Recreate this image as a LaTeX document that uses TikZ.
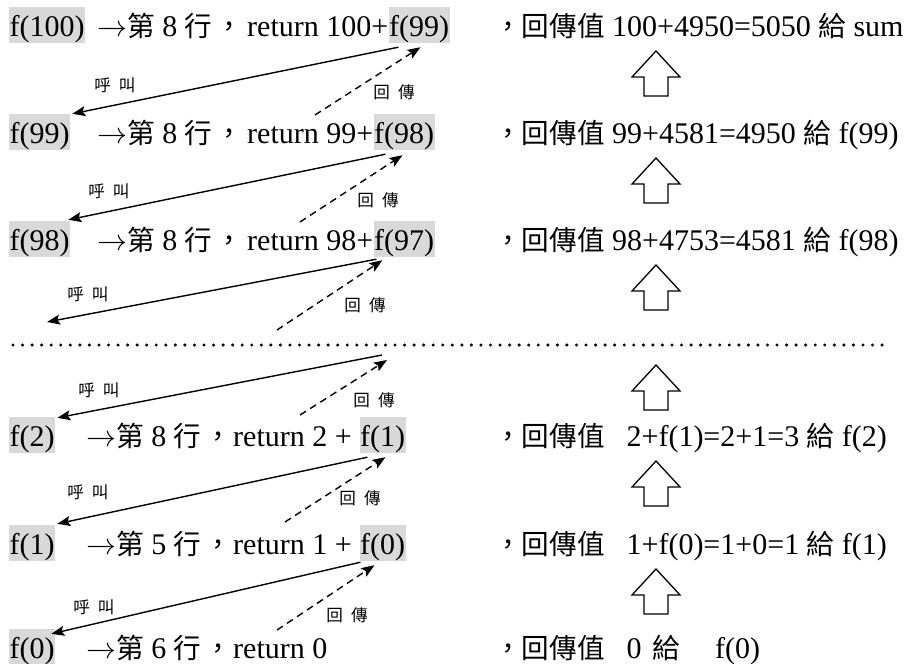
\RequirePackage{fix-cm}
\documentclass[tikz,border=0pt]{standalone}
\usepackage{fontspec}
\setmainfont{Liberation Serif}
\newfontfamily\cjk[Scale=0.92]{Noto Sans CJK TC}
\usetikzlibrary{arrows.meta}
\definecolor{boxgray}{RGB}{217,217,217}
\newcommand{\hang}[1]{$\rightarrow${\cjk 第} #1 {\cjk 行}\kern3pt{\cjk ，}}
\tikzset{
  txt/.style={font=\fontsize{30}{36}\selectfont, inner sep=0pt, anchor=base west},
  fbox/.style={txt, fill=boxgray, text height=29pt, text depth=7pt, inner xsep=0.5pt},
  lbl/.style={font=\cjk\fontsize{18}{20}\selectfont, inner sep=0pt},
  tip/.style={-{Stealth[length=13pt,width=10pt,inset=2.5pt]}},
  call/.style={line width=1.4pt, tip},
  ret/.style={line width=1.4pt, dash pattern=on 7pt off 5pt, tip},
  uparr/.pic={\draw[line width=1.3pt, line join=miter] (0,0) -- (24,26) -- (12,26) -- (12,45) -- (-12,45) -- (-12,26) -- (-24,26) -- cycle;}
}
\begin{document}
\begin{tikzpicture}[x=1pt,y=-1pt]
\useasboundingbox (0,0) rectangle (911,664);
% row 1
\node[fbox] (r1a) at (9,36) {f(100)};
\node[txt] (r1t) at (97,36) {\hang{8}};
\node[txt] (r1r) at (247,36) {return 100+};
\node[fbox] (r1b) at (r1r.base east) {f(99)};
\node[txt] (r1v) at (494,36) {{\cjk ，回傳值} 100+4950=5050 {\cjk 給} sum};
% row 2
\node[fbox] (r2a) at (9,143) {f(99)};
\node[txt] (r2t) at (97,143) {\hang{8}};
\node[txt] (r2r) at (247,143) {return 99+};
\node[fbox] (r2b) at (r2r.base east) {f(98)};
\node[txt] (r2v) at (494,143) {{\cjk ，回傳值} 99+4581=4950 {\cjk 給} f(99)};
% row 3
\node[fbox] (r3a) at (9,250) {f(98)};
\node[txt] (r3t) at (97,250) {\hang{8}};
\node[txt] (r3r) at (247,250) {return 98+};
\node[fbox] (r3b) at (r3r.base east) {f(97)};
\node[txt] (r3v) at (494,250) {{\cjk ，回傳值} 98+4753=4581 {\cjk 給} f(98)};
% row 4
\node[fbox] (r4a) at (9,446) {f(2)};
\node[txt] (r4t) at (86,446) {\hang{8}};
\node[txt] (r4r) at (233,446) {return 2 +};
\node[fbox] (r4b) at ([xshift=7.5]r4r.base east) {f(1)};
\node[txt] (r4v) at (494,446) {{\cjk ，回傳值}\hspace{22pt}2+f(1)=2+1=3 {\cjk 給} f(2)};
% row 5
\node[fbox] (r5a) at (9,554) {f(1)};
\node[txt] (r5t) at (86,554) {\hang{5}};
\node[txt] (r5r) at (233,554) {return 1 +};
\node[fbox] (r5b) at ([xshift=7.5]r5r.base east) {f(0)};
\node[txt] (r5v) at (494,554) {{\cjk ，回傳值}\hspace{22pt}1+f(0)=1+0=1 {\cjk 給} f(1)};
% row 6
\node[fbox] (r6a) at (9,658) {f(0)};
\node[txt] (r6t) at (86,658) {\hang{6}};
\node[txt] (r6r) at (233,658) {return 0};
\node[txt] (r6v) at (494,658) {{\cjk ，回傳值}\hspace{22pt}0\hspace{11pt}{\cjk 給}\hspace{35pt}f(0)};
% up arrows
\pic at (656,51) {uparr};
\pic at (656,158) {uparr};
\pic at (656,265) {uparr};
\pic at (656,365) {uparr};
\pic at (656,461) {uparr};
\pic at (656,569) {uparr};
% dotted separator
\draw[line width=3.4pt, line cap=round, dash pattern=on 0pt off 9.55pt] (13,345) -- (886,345);
% free ends
\coordinate (d1) at (315,115);
\coordinate (d2) at (300,222);
\coordinate (c3) at (47,322);
\coordinate (d3) at (277,330);
\coordinate (c4) at (382,355);
\coordinate (e4) at (387,360);
\coordinate (d4) at (300,415);
\coordinate (d5) at (285,522);
\coordinate (d6) at (277,630);
% connectors
\draw[call] ([shift={(10,4)}]r1b.south west) -- ([shift={(2,0)}]r2a.north east);
\draw[ret] (d1) -- ([shift={(32,4)}]r1b.south west);
\draw[call] ([shift={(12,4)}]r2b.south west) -- ([shift={(-2,-1)}]r3a.north east);
\draw[ret] (d2) -- ([shift={(29,5)}]r2b.south west);
\draw[call] ([shift={(3,2)}]r3b.south west) -- (c3);
\draw[ret] (d3) -- ([shift={(9,3)}]r3b.south west);
\draw[call] (c4) -- ([shift={(2,1)}]r4a.north east);
\draw[ret] (d4) -- (e4);
\draw[call] ([shift={(8,4)}]r4b.south west) -- ([shift={(2,-1)}]r5a.north east);
\draw[ret] (d5) -- ([shift={(26,4)}]r4b.south west);
\draw[call] ([shift={(1,1)}]r5b.south west) -- ([shift={(-4,5)}]r6a.north east);
\draw[ret] (d6) -- ([shift={(15,4)}]r5b.south west);
% labels
\node[lbl] (l1c) at (115,85) {呼\hspace{8pt}叫};
\node[lbl] (l1r) at (394,92) {回\hspace{8pt}傳};
\node[lbl] (l2c) at (109,191) {呼\hspace{8pt}叫};
\node[lbl] (l2r) at (378,200) {回\hspace{8pt}傳};
\node[lbl] (l3c) at (88,294) {呼\hspace{8pt}叫};
\node[lbl] (l3r) at (365,305) {回\hspace{8pt}傳};
\node[lbl] (l4c) at (99,390) {呼\hspace{8pt}叫};
\node[lbl] (l4r) at (374,400) {回\hspace{8pt}傳};
\node[lbl] (l5c) at (88,492) {呼\hspace{8pt}叫};
\node[lbl] (l5r) at (360,498) {回\hspace{8pt}傳};
\node[lbl] (l6c) at (94,607) {呼\hspace{8pt}叫};
\node[lbl] (l6r) at (347,615) {回\hspace{8pt}傳};
\end{tikzpicture}
\end{document}
